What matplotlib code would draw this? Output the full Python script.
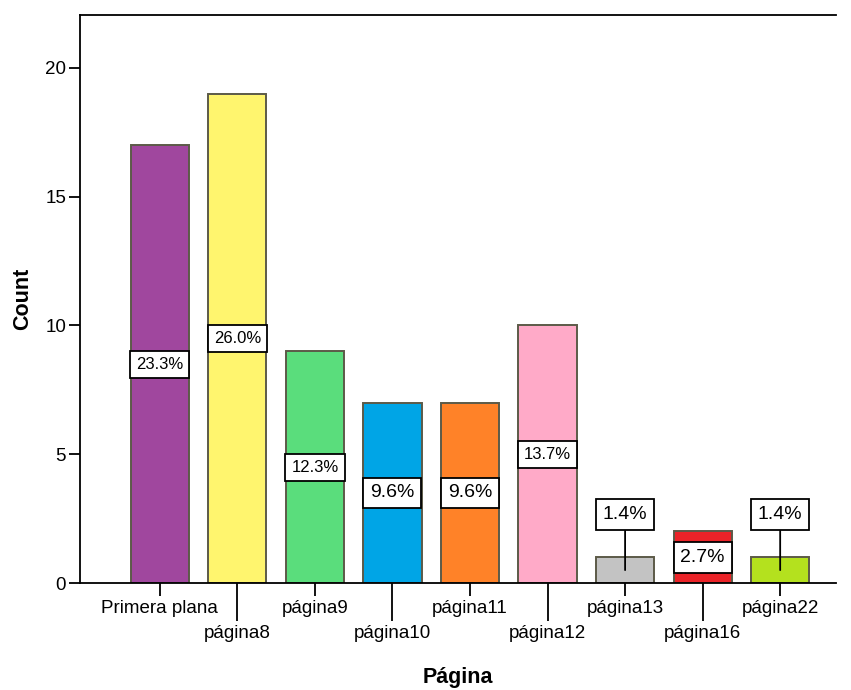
import matplotlib
matplotlib.use("Agg")
from matplotlib import pyplot as plt
import numpy as np

# data
categories = ["Primera plana", "página8", "página9", "página10", "página11",
              "página12", "página13", "página16", "página22"]
counts = [17, 19, 9, 7, 7, 10, 1, 2, 1]
pct_labels = ["23.3%", "26.0%", "12.3%", "9.6%", "9.6%", "13.7%", "1.4%", "2.7%", "1.4%"]
colors = ["#a0479e", "#fff56e", "#5add7c", "#00a5e6", "#ff8228",
          "#ffaac8", "#c3c3c3", "#eb2328", "#b4e11e"]

plt.rcParams['font.family'] = ['Liberation Sans', 'DejaVu Sans']

fig = plt.figure(figsize=(8.51, 6.9), dpi=100)
ax = fig.add_axes([80/851, 107/690, 756/851, 568/690])

x = np.arange(len(categories))
ax.bar(x, counts, width=0.75, color=colors, edgecolor="#5c5a48", linewidth=1.4, zorder=2)

for i, (c, lab) in enumerate(zip(counts, pct_labels)):
    big = c in (17, 19, 9, 10)
    fs = 12 if big else 14
    box = dict(boxstyle="square,pad=0.36" if big else "square,pad=0.35",
               fc="white", ec="black", lw=1.3)
    if c >= 2:
        ax.text(i, c / 2, lab, ha="center", va="center", fontsize=fs,
                bbox=box, zorder=4)
    else:
        ax.annotate(lab, xy=(i, c / 2), xytext=(0, 40), textcoords="offset points",
                    ha="center", va="center", fontsize=fs, bbox=box,
                    arrowprops=dict(arrowstyle="-", color="black", lw=1.3,
                                    shrinkA=0, shrinkB=0), zorder=4)

ax.set_xlim(-1.03, 8.72)
ax.set_ylim(0, 22.05)
ax.set_yticks([0, 5, 10, 15, 20])
ax.tick_params(axis="y", length=8, width=1.3, pad=2, labelsize=13.5)

# staggered x labels: even on major, odd on minor with longer ticks
ax.set_xticks(x[::2])
ax.set_xticklabels(categories[::2])
ax.set_xticks(x[1::2], minor=True)
ax.set_xticklabels(categories[1::2], minor=True)
ax.tick_params(axis="x", which="major", length=9, width=1.3, pad=3, labelsize=13.5)
ax.tick_params(axis="x", which="minor", length=27, width=1.3, pad=3, labelsize=13.5)

ax.spines["right"].set_visible(False)
for s in ["left", "bottom", "top"]:
    ax.spines[s].set_linewidth(1.3)

ax.set_ylabel("Count", fontsize=15.5, fontweight="bold")
ax.yaxis.set_label_coords(-0.062, 0.5)
fig.text(458/851, 1 - 678/690, "Página", ha="center", va="center",
         fontsize=15.5, fontweight="bold")

fig.savefig("out.png", dpi=100)
